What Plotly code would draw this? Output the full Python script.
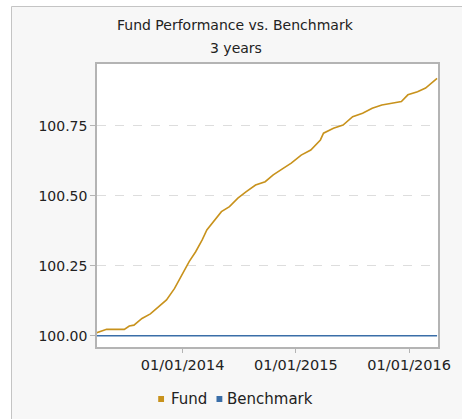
import plotly.graph_objects as go

dates = ["2013-03-30", "2013-05-01", "2013-06-27", "2013-07-13", "2013-07-28", "2013-08-23",
         "2013-09-19", "2013-10-15", "2013-11-10", "2013-12-06", "2014-01-06", "2014-01-22",
         "2014-02-12", "2014-03-05", "2014-03-20", "2014-04-10", "2014-05-06", "2014-06-01",
         "2014-06-28", "2014-07-24", "2014-08-24", "2014-09-24", "2014-10-20", "2014-11-16",
         "2014-12-17", "2015-01-18", "2015-02-18", "2015-03-21", "2015-03-31", "2015-05-02",
         "2015-06-02", "2015-07-03", "2015-08-04", "2015-09-04", "2015-10-05", "2015-11-06",
         "2015-12-07", "2015-12-28", "2016-01-28", "2016-02-23", "2016-03-31"]
fund = [100.011, 100.023, 100.023, 100.035, 100.038, 100.062,
        100.078, 100.104, 100.128, 100.169, 100.229, 100.265,
        100.300, 100.342, 100.378, 100.407, 100.443, 100.461,
        100.491, 100.514, 100.538, 100.550, 100.574, 100.594,
        100.616, 100.645, 100.663, 100.699, 100.723, 100.741,
        100.752, 100.782, 100.794, 100.812, 100.824, 100.830,
        100.836, 100.860, 100.871, 100.884, 100.919]
benchmark = [100.0] * len(dates)
y_ticks = [100.00, 100.25, 100.50, 100.75]
x_ticks = ["2014-01-01", "2015-01-01", "2016-01-01"]
x_tick_labels = ["01/01/2014", "01/01/2015", "01/01/2016"]
series_names = ["Fund", "Benchmark"]

FUND_COLOR = "#c8921c"
BENCH_COLOR = "#3a6ea8"
FONT = "DejaVu Sans, Verdana, sans-serif"
TXT = "#222222"

fig = go.Figure()
fig.add_trace(go.Scatter(x=dates, y=benchmark, mode="lines", name=series_names[1],
                         line=dict(color=BENCH_COLOR, width=1.6), showlegend=False, hoverinfo="skip"))
fig.add_trace(go.Scatter(x=dates, y=fund, mode="lines", name=series_names[0],
                         line=dict(color=FUND_COLOR, width=1.6), showlegend=False, hoverinfo="skip"))

L, R, T, B = 97, 14, 64, 72
W, H = 462, 419
pw, ph = W - L - R, H - T - B

def px_x(p):
    return (p - L) / pw

def px_y(p):
    return (H - B - p) / ph

shapes = [
    # outer light panel
    dict(type="rect", xref="paper", yref="paper", x0=px_x(9), x1=px_x(475), y0=px_y(430), y1=px_y(6.5),
         fillcolor="#f7f7f7", line=dict(color="#c4c4c4", width=1), layer="below"),
    # white plot area
    dict(type="rect", xref="paper", yref="paper", x0=0, x1=1, y0=0, y1=1,
         fillcolor="white", line=dict(width=0), layer="below"),
]

annotations = [
    dict(text="Fund Performance vs. Benchmark", xref="paper", yref="paper", x=px_x(240), y=px_y(25),
         showarrow=False, xanchor="center", yanchor="middle", font=dict(size=14, color=TXT)),
    dict(text="3 years", xref="paper", yref="paper", x=px_x(240), y=px_y(48),
         showarrow=False, xanchor="center", yanchor="middle", font=dict(size=14, color=TXT)),
]

# legend: square swatch + label
legend_pos = [(160, 171), (220, 229)]
for (sx, tx), name, col in zip(legend_pos, series_names, [FUND_COLOR, BENCH_COLOR]):
    shapes.append(dict(type="rect", xref="paper", yref="paper", x0=px_x(sx), x1=px_x(sx + 6),
                       y0=px_y(402), y1=px_y(396), fillcolor=col, line=dict(width=0)))
    annotations.append(dict(text=name, xref="paper", yref="paper", x=px_x(tx), y=px_y(399),
                            showarrow=False, xanchor="left", yanchor="middle",
                            font=dict(size=15, color=TXT)))

fig.update_layout(
    width=W, height=H,
    margin=dict(l=L, r=R, t=T, b=B, pad=0),
    paper_bgcolor="white", plot_bgcolor="white",
    font=dict(family=FONT, size=14, color=TXT),
    shapes=shapes,
    annotations=annotations,
    showlegend=False,
    xaxis=dict(type="date", range=["2013-03-31", "2016-04-03"], tickvals=x_ticks, ticktext=x_tick_labels,
               showgrid=False, zeroline=False, showline=True, linecolor="#b4b4b4", linewidth=1.5, mirror=True,
               ticks="outside", ticklen=4, tickcolor="#b4b4b4", tickfont=dict(size=14.5, color=TXT)),
    yaxis=dict(range=[99.96, 100.97], tickvals=y_ticks, ticktext=[f"{v:.2f}" for v in y_ticks],
               showgrid=True, gridcolor="#dddddd", griddash="dash", gridwidth=1, zeroline=False,
               showline=True, linecolor="#b4b4b4", linewidth=1.5, mirror=True,
               ticks="outside", ticklen=5, tickcolor="#b4b4b4", tickfont=dict(size=14, color=TXT)),
)

fig.write_html("out.html", config={"displayModeBar": False},
               post_script="document.body.style.margin='0px';")
